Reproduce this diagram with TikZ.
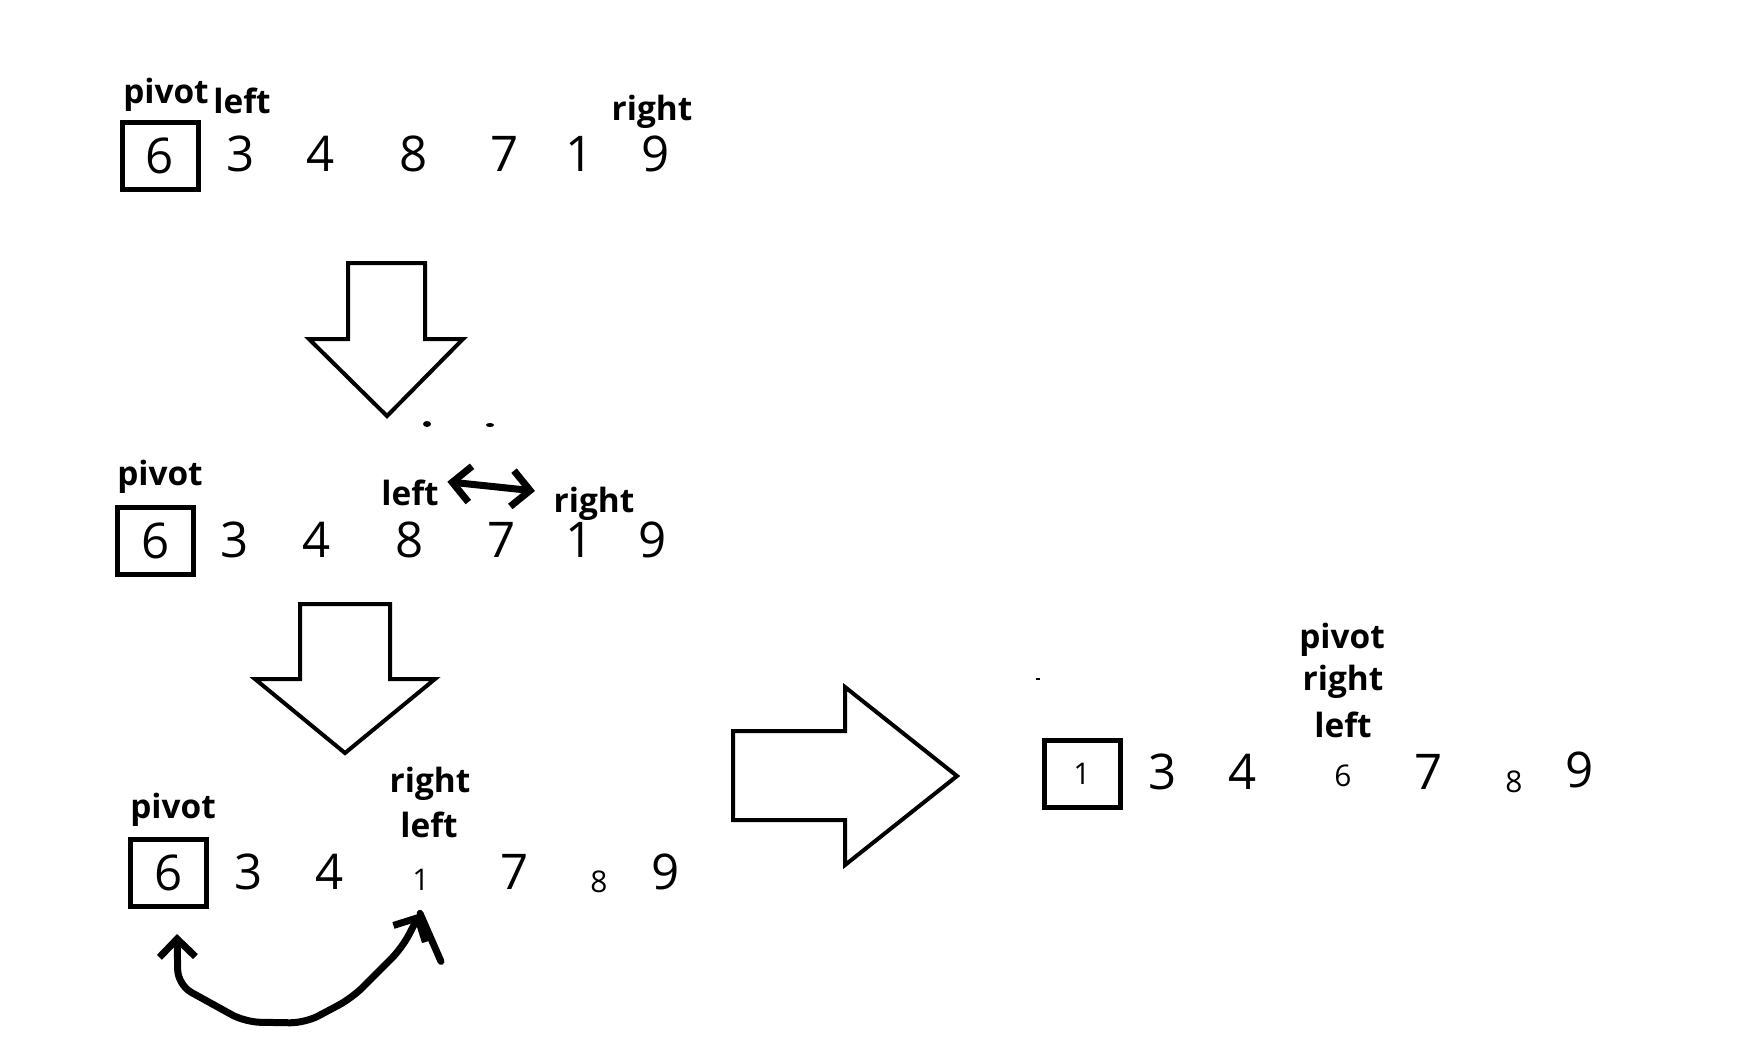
\documentclass[tikz,border=0pt]{standalone}
\usepackage{fontspec}
\setmainfont{Open Sans}
\usetikzlibrary{arrows.meta}
\tikzset{
  num/.style={inner sep=0pt,font=\fontsize{14}{14}\selectfont},
  snum/.style={inner sep=0pt,font=\fontsize{8.5}{8.5}\selectfont},
  pbox/.style={num,draw,line width=0.5mm,minimum width=7.6mm,minimum height=6.7mm},
  lbl/.style={inner sep=0pt,anchor=base,font=\fontsize{9.5}{9.5}\selectfont\bfseries},
  blk/.style={draw,line width=0.4mm,miter limit=10},
  hand/.style={line width=0.7mm,line cap=round,line join=round},
  swp/.style={hand,{Straight Barb[length=1.8mm,width=3.6mm]}-{Straight Barb[length=1.8mm,width=3.6mm]}}
}
\begin{document}
\begin{tikzpicture}[x=0.1mm,y=-0.1mm]
  \useasboundingbox (0,0) rectangle (1763,1063);
  % row 1: start
  \node[pbox] (a6) at (160,156) {6};
  \node[num] (a3) at (241,154) {3};
  \node[num] (a4) at (321,154) {4};
  \node[num] (a8) at (414,154) {8};
  \node[num] (a7) at (505,154) {7};
  \node[num] (a1) at (580,154) {1};
  \node[num] (a9) at (656,154) {9};
  \node[lbl] (apivot) at (166,103) {pivot};
  \node[lbl] (aleft) at (242,113) {left};
  \node[lbl] (aright) at (652,120) {right};
  \draw[blk] (348,263) -- (425,263) -- (425,339) -- (463,339) -- (387,416)
    -- (309,339) -- (348,339) -- cycle;
  \fill (427,424) ellipse [x radius=4, y radius=3];
  \fill (490,425) ellipse [x radius=4, y radius=2];
  % row 2: left and right stop
  \node[pbox] (b6) at (155.5,541) {6};
  \node[num] (b3) at (235,540) {3};
  \node[num] (b4) at (317,540) {4};
  \node[num] (b8) at (410,540) {8};
  \node[num] (b7) at (502,540) {7};
  \node[num] (b1) at (580,540) {1};
  \node[num] (b9) at (653,540) {9};
  \node[lbl] (bpivot) at (160,485) {pivot};
  \node[lbl] (bleft) at (410,505) {left};
  \node[lbl] (bright) at (594,512) {right};
  \draw[swp] ([shift={(8,3)}]bleft.north east) -- ([shift={(-18,5)}]bright.north west);
  \draw[blk] (300,604) -- (390,604) -- (390,679) -- (435,679) -- (345,753)
    -- (255,679) -- (300,679) -- cycle;
  % row 3: swapped, pointers meet
  \node[pbox] (c6) at (168.5,873) {6};
  \node[num] (c3) at (249,872) {3};
  \node[num] (c4) at (330,872) {4};
  \node[snum] (c1) at (421,880) {1};
  \node[num] (c7) at (515,872) {7};
  \node[snum] (c8) at (599,882) {8};
  \node[num] (c9) at (666,872) {9};
  \node[lbl] (cpivot) at (173,818) {pivot};
  \node[lbl] (cright) at (430,792) {right};
  \node[lbl] (cleft) at (429,837) {left};
  \draw[swp,rounded corners=1.5mm] ([shift={(8.5,25)}]c6.south) -- (178,985)
    -- (245,1022) -- (305,1023) -- (352,998) -- (402,948)
    -- ([shift={(-1,22)}]c1.south);
  \draw[hand] ([shift={(-1,22)}]c1.south) -- ++(21,48);
  \draw[blk] (733,731) -- (845,731) -- (845,687) -- (957,776) -- (845,865)
    -- (845,820) -- (733,820) -- cycle;
  % row 4: result
  \node[pbox,font=\fontsize{8.5}{8.5}\selectfont] (d1) at (1082,774) {1};
  \node[num] (d3) at (1163,772) {3};
  \node[num] (d4) at (1243,772) {4};
  \node[snum] (d6) at (1343,776) {6};
  \node[num] (d7) at (1429,772) {7};
  \node[snum] (d8) at (1514,782) {8};
  \node[num] (d9) at (1580,770) {9};
  \node[lbl] (dpivot) at (1342,648) {pivot};
  \node[lbl] (dright) at (1343,690) {right};
  \node[lbl] (dleft) at (1343,737) {left};
  \draw[line width=0.2mm] (1036,679) -- (1040,679);
\end{tikzpicture}
\end{document}
